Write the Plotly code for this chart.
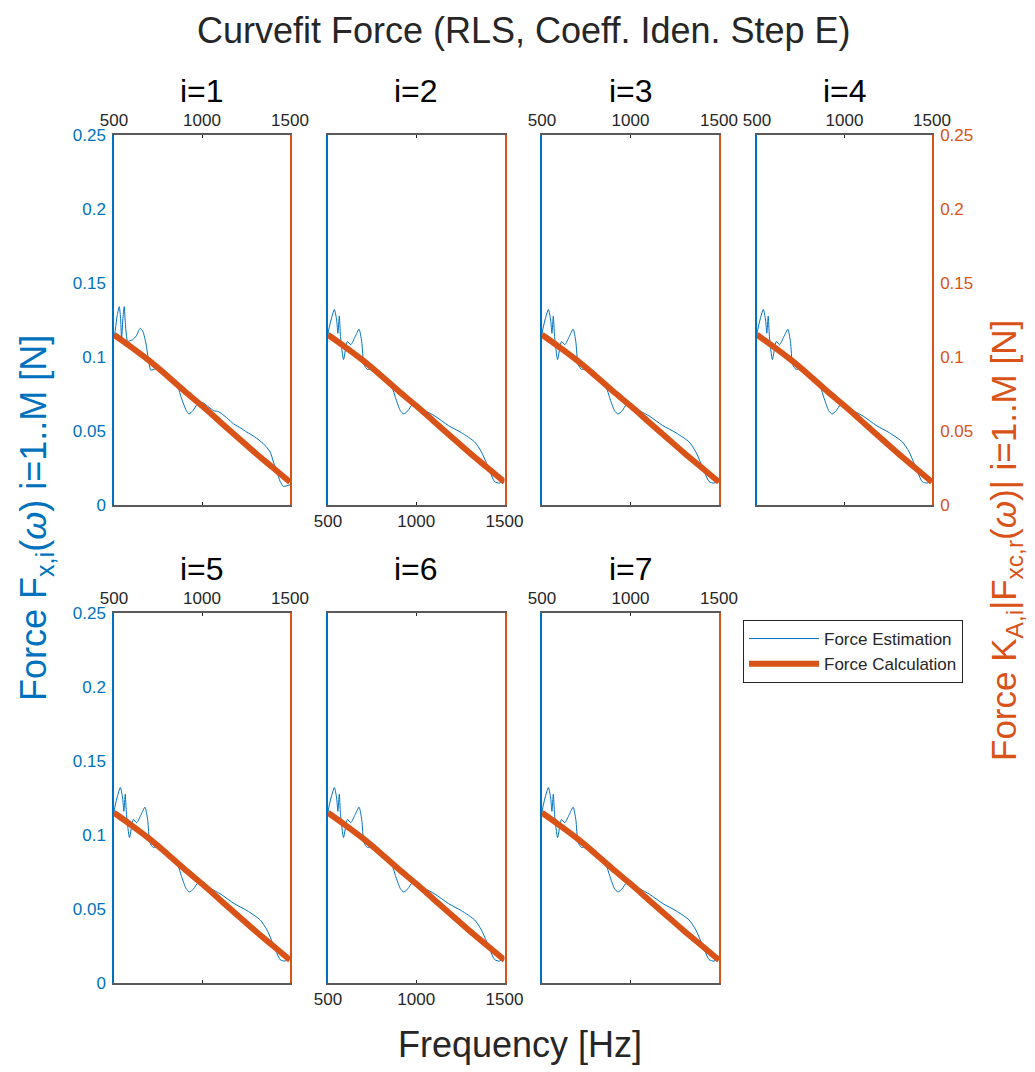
import plotly.graph_objects as go

# ---------------- data ----------------
freq_calc = [500, 600, 700, 800, 900, 1000, 1100, 1200, 1300, 1400, 1500]
force_calc = [0.115, 0.1065, 0.0975, 0.0875, 0.077, 0.067, 0.0565, 0.046, 0.0355, 0.0255, 0.0155]

# Force estimation, panel i=1
freq_est_1 = [500, 506, 518, 530, 538, 543, 550, 558, 565, 577, 590, 605, 625, 649, 665, 681, 700, 709,
              737, 780, 820, 863, 882, 910, 926, 950, 973, 1001, 1040, 1067, 1095, 1140, 1180, 1220,
              1255, 1300, 1349, 1387, 1406, 1425, 1444, 1462, 1480, 1500]
force_est_1 = [0.114, 0.117, 0.128, 0.134, 0.125, 0.1116, 0.125, 0.134, 0.122, 0.1105, 0.111, 0.1116,
               0.114, 0.1194, 0.117, 0.1094, 0.095, 0.0911, 0.092, 0.089, 0.084, 0.0793, 0.0726, 0.064,
               0.0615, 0.064, 0.068, 0.0693, 0.066, 0.0637, 0.063, 0.059, 0.0548, 0.052, 0.0492, 0.046,
               0.0414, 0.0359, 0.029, 0.0225, 0.016, 0.0125, 0.013, 0.0136]

# Force estimation, panels i=2..7
freq_est = [500, 504, 517, 536, 549, 556, 564, 571, 588, 610, 629, 654, 676, 691, 704, 723, 742, 780,
            820, 863, 882, 910, 929, 953, 976, 1013, 1051, 1107, 1182, 1257, 1331, 1369, 1406, 1444,
            1472, 1500]
force_est = [0.115, 0.1183, 0.125, 0.1321, 0.125, 0.116, 0.1276, 0.1138, 0.0983, 0.1105, 0.1083, 0.1138,
             0.1188, 0.1105, 0.0949, 0.0916, 0.092, 0.089, 0.084, 0.0793, 0.0726, 0.0637, 0.0615, 0.0637,
             0.0675, 0.066, 0.0637, 0.06, 0.0537, 0.0488, 0.0426, 0.0359, 0.0259, 0.0158, 0.0148, 0.0169]

panel_titles = ["i=1", "i=2", "i=3", "i=4", "i=5", "i=6", "i=7"]
x_ticks = [500, 1000, 1500]
y_ticks = [0, 0.05, 0.1, 0.15, 0.2, 0.25]

# ---------------- styling ----------------
BLUE = "#0072BD"
ORANGE = "#D95319"
DARK = "#262626"
AXGRAY = "#5a5a5a"
FONT = "Liberation Sans, Arial, sans-serif"

W, H = 1035, 1072
x_domains = [(114, 290), (328, 504.5), (542, 719), (757, 932)]
y_rows = [(135, 505), (613, 983)]

grid = [(0, 0), (0, 1), (0, 2), (0, 3), (1, 0), (1, 1), (1, 2)]
x_side = ["top", "bottom", "top", "top", "top", "bottom", "top"]
left_labels = [True, False, False, False, True, False, False]
right_labels = [False, False, False, True, False, False, False]

fig = go.Figure()
layout = dict(
    template="none",
    width=W, height=H, autosize=False,
    margin=dict(l=0, r=0, t=0, b=0, pad=0, autoexpand=False),
    paper_bgcolor="white", plot_bgcolor="white",
    font=dict(family=FONT, color=DARK),
    showlegend=True,
    legend=dict(x=743 / W, y=1 - 620 / H, xanchor="left", yanchor="top",
                bordercolor=DARK, borderwidth=1, bgcolor="white",
                font=dict(size=17, color=DARK), itemwidth=70,
                tracegroupgap=0),
)

annotations = []
for k in range(7):
    n = k + 1
    r, c = grid[k]
    xd = (x_domains[c][0] / W, x_domains[c][1] / W)
    yd = (1 - y_rows[r][1] / H, 1 - y_rows[r][0] / H)
    xname = "xaxis" if n == 1 else f"xaxis{n}"
    yname = "yaxis" if n == 1 else f"yaxis{n}"
    yrname = f"yaxis{n + 7}"
    xref = "x" if n == 1 else f"x{n}"
    yref = "y" if n == 1 else f"y{n}"
    yrref = f"y{n + 7}"

    layout[xname] = dict(domain=xd, anchor=yref, range=[500, 1500], side=x_side[k],
                         tickvals=x_ticks, ticks="inside", ticklen=3, tickcolor=DARK,
                         showline=True, linecolor=AXGRAY, linewidth=1.5, mirror="ticks",
                         showgrid=False, zeroline=False, automargin=False,
                         ticklabelstandoff=0,
                         tickfont=dict(size=17, color=DARK, family=FONT))
    layout[yname] = dict(domain=yd, anchor=xref, range=[0, 0.25], tickvals=y_ticks,
                         showticklabels=left_labels[k], ticks="",
                         showline=True, linecolor=BLUE, linewidth=1.5,
                         showgrid=False, zeroline=False, automargin=False,
                         ticklabelstandoff=3,
                         tickfont=dict(size=17, color=BLUE, family=FONT))
    layout[yrname] = dict(overlaying=yref, anchor=xref, side="right", range=[0, 0.25],
                          tickvals=y_ticks, showticklabels=right_labels[k], ticks="",
                          showline=True, linecolor=ORANGE, linewidth=1.5,
                          showgrid=False, zeroline=False, automargin=False,
                          ticklabelstandoff=3,
                          tickfont=dict(size=17, color=ORANGE, family=FONT))

    fx = freq_est_1 if k == 0 else freq_est
    fy = force_est_1 if k == 0 else force_est
    fig.add_trace(go.Scatter(x=fx, y=fy, xaxis=xref, yaxis=yref, mode="lines",
                             line=dict(color=BLUE, width=1, shape="spline", smoothing=0.6),
                             name="Force Estimation", showlegend=(k == 0)))
    fig.add_trace(go.Scatter(x=freq_calc, y=force_calc, xaxis=xref, yaxis=yrref, mode="lines",
                             line=dict(color=ORANGE, width=6, shape="spline"),
                             name="Force Calculation", showlegend=(k == 0)))

    annotations.append(dict(text=panel_titles[k], xref="paper", yref="paper",
                            x=(xd[0] + xd[1]) / 2, y=1 - (91 if r == 0 else 569) / H,
                            xanchor="center", yanchor="middle", showarrow=False,
                            font=dict(size=32, color="#000000", family=FONT)))

annotations.append(dict(text="Curvefit Force (RLS, Coeff. Iden. Step E)", xref="paper", yref="paper",
                        x=524 / W, y=1 - 30 / H, xanchor="center", yanchor="middle", showarrow=False,
                        font=dict(size=36, color=DARK, family=FONT)))
annotations.append(dict(text="Frequency [Hz]", xref="paper", yref="paper",
                        x=520 / W, y=1 - 1044 / H, xanchor="center", yanchor="middle", showarrow=False,
                        font=dict(size=36, color=DARK, family=FONT)))
annotations.append(dict(text="Force F<sub>x,i</sub>(<i>ω</i>) i=1..M [N]", xref="paper", yref="paper",
                        x=36 / W, y=1 - 518 / H, xanchor="center", yanchor="middle", showarrow=False,
                        textangle=-90, font=dict(size=36, color=BLUE, family=FONT)))
annotations.append(dict(text="Force K<sub>A,i</sub>|F<sub>xc,r</sub>(<i>ω</i>)| i=1..M [N]", xref="paper",
                        yref="paper", x=1006 / W, y=1 - 541 / H, xanchor="center", yanchor="middle",
                        showarrow=False, textangle=-90, font=dict(size=35, color=ORANGE, family=FONT)))
layout["annotations"] = annotations

fig.update_layout(**layout)
fig.write_html("out.html", config={"responsive": False, "displayModeBar": False})

# remove default page margin so the figure fills the window exactly
with open("out.html", "r", encoding="utf-8") as f:
    html = f.read()
html = html.replace("<body>", '<body style="margin:0;padding:0;overflow:hidden">', 1)
with open("out.html", "w", encoding="utf-8") as f:
    f.write(html)
